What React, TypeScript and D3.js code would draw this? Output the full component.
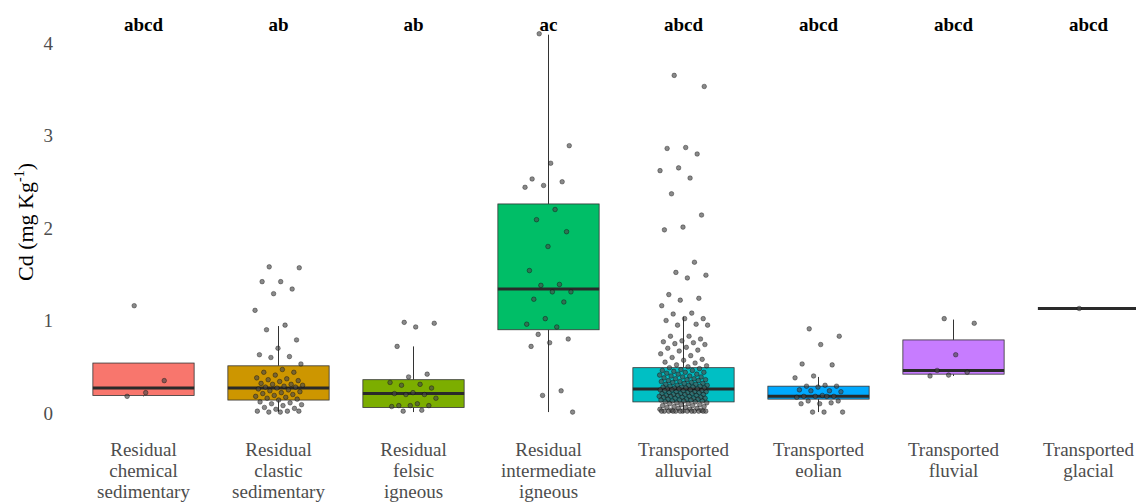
import React from "react";
import * as d3 from "d3";

const categories = [
  "Residual chemical sedimentary",
  "Residual clastic sedimentary",
  "Residual felsic igneous",
  "Residual intermediate igneous",
  "Transported alluvial",
  "Transported eolian",
  "Transported fluvial",
  "Transported glacial",
];
const categoryLines = [
  ["Residual", "chemical", "sedimentary"],
  ["Residual", "clastic", "sedimentary"],
  ["Residual", "felsic", "igneous"],
  ["Residual", "intermediate", "igneous"],
  ["Transported", "alluvial"],
  ["Transported", "eolian"],
  ["Transported", "fluvial"],
  ["Transported", "glacial"],
];
const groupLetters = ["abcd", "ab", "ab", "ac", "abcd", "abcd", "abcd", "abcd"];
const colors = ["#F8766D", "#CD9600", "#7CAE00", "#00BE67", "#00BFC4", "#00A9FF", "#C77CFF", "#FF61CC"];

const q1 = [0.19, 0.14, 0.06, 0.9, 0.12, 0.15, 0.42, 1.13];
const medians = [0.27, 0.27, 0.21, 1.34, 0.26, 0.18, 0.46, 1.13];
const q3 = [0.54, 0.51, 0.36, 2.26, 0.49, 0.29, 0.79, 1.13];
const whiskerLow = [0.18, 0.01, 0.01, 0.01, 0.0, 0.01, 0.4, 1.13];
const whiskerHigh = [0.54, 0.94, 0.72, 4.09, 1.04, 0.39, 1.01, 1.13];

const chemicalValues = [1.16, 0.35, 0.22, 0.18];
const clasticValues = [1.58, 1.57, 1.42, 1.42, 1.34, 1.29, 1.11, 0.95, 0.9, 0.79, 0.7, 0.63, 0.61, 0.6, 0.53, 0.47, 0.44, 0.44, 0.41, 0.38, 0.37, 0.36, 0.35, 0.34, 0.32, 0.31, 0.31, 0.3, 0.29, 0.28, 0.28, 0.27, 0.26, 0.25, 0.24, 0.23, 0.22, 0.21, 0.2, 0.19, 0.18, 0.17, 0.16, 0.15, 0.14, 0.12, 0.11, 0.1, 0.09, 0.08, 0.06, 0.05, 0.04, 0.02, 0.02, 0.01, 0.02, 0.01];
const felsicValues = [0.98, 0.97, 0.93, 0.72, 0.42, 0.39, 0.33, 0.31, 0.3, 0.27, 0.22, 0.21, 0.2, 0.2, 0.16, 0.1, 0.08, 0.08, 0.08, 0.07, 0.03, 0.02];
const intermediateValues = [4.1, 2.89, 2.7, 2.53, 2.5, 2.46, 2.44, 2.2, 2.09, 1.96, 1.8, 1.54, 1.39, 1.38, 1.31, 1.31, 1.23, 1.2, 1.02, 0.96, 0.93, 0.85, 0.8, 0.76, 0.72, 0.24, 0.19, 0.01];
const alluvialValues = [
  3.65, 3.53, 2.87, 2.86, 2.8, 2.65, 2.62, 2.54, 2.37, 2.14, 2.01, 1.98, 1.63, 1.52, 1.49, 1.46, 1.28, 1.24, 1.22, 1.16, 1.08, 1.07,
  1.02, 1.02, 1.0, 0.96, 0.95, 0.95, 0.83, 0.83, 0.8, 0.78, 0.77, 0.76, 0.75, 0.74, 0.71, 0.7, 0.68, 0.67, 0.64, 0.62, 0.6, 0.58, 0.57, 0.55, 0.54, 0.52, 0.51, 0.5,
  0.49, 0.48, 0.47, 0.46, 0.46, 0.45, 0.44, 0.44, 0.43, 0.42, 0.42, 0.41, 0.4, 0.4, 0.39, 0.39, 0.38, 0.37, 0.37, 0.36, 0.36, 0.35, 0.35, 0.34, 0.34, 0.33, 0.33, 0.32, 0.32, 0.31, 0.31, 0.3, 0.3, 0.3, 0.29, 0.29, 0.28, 0.28, 0.28, 0.27, 0.27, 0.27, 0.26, 0.26, 0.26, 0.25, 0.25, 0.25, 0.24, 0.24, 0.24, 0.23, 0.23, 0.23, 0.22, 0.22, 0.22, 0.21, 0.21, 0.21, 0.2, 0.2, 0.2, 0.19, 0.19, 0.19, 0.18, 0.18, 0.18, 0.17, 0.17, 0.17, 0.16, 0.16, 0.16, 0.15, 0.15, 0.15, 0.14, 0.14, 0.14, 0.13, 0.13, 0.13, 0.12, 0.12,
  0.11, 0.11, 0.1, 0.1, 0.09, 0.09, 0.08, 0.08, 0.07, 0.07, 0.06, 0.06, 0.05, 0.05, 0.04, 0.04, 0.03, 0.03, 0.02, 0.02, 0.02, 0.02, 0.02, 0.02, 0.02, 0.02, 0.02, 0.02, 0.02, 0.02, 0.02,
];
const eolianValues = [0.91, 0.83, 0.74, 0.53, 0.52, 0.4, 0.38, 0.3, 0.29, 0.29, 0.28, 0.25, 0.24, 0.24, 0.23, 0.19, 0.18, 0.18, 0.18, 0.17, 0.18, 0.13, 0.13, 0.1, 0.1, 0.11, 0.01, 0.01, 0.01];
const fluvialValues = [1.02, 0.97, 0.63, 0.46, 0.44, 0.41, 0.4];
const glacialValues = [1.13];

const pointValues = [chemicalValues, clasticValues, felsicValues, intermediateValues, alluvialValues, eolianValues, fluvialValues, glacialValues];

const yTicks = [0, 1, 2, 3, 4];

const W = 1136;
const H = 504;
const serif = "'Liberation Serif', Tinos, 'Noto Serif', 'DejaVu Serif', 'Times New Roman', Times, serif";

export default function App() {
  const x = d3.scaleBand<string>().domain(categories).range([76, 1156]).padding(0);
  const y = d3.scaleLinear().domain([0, 4]).range([413, 43]);
  const bw = x.bandwidth();
  const boxW = bw * 0.75;
  const jitterW = bw * 0.18;
  const phi = 0.6180339887;
  const tf = { fontFamily: serif };

  return (
    <svg width={W} height={H} style={{ position: "absolute", left: 0, top: 0, background: "#fff", fontFamily: serif }}>
      {yTicks.map((t) => (
        <text key={t} x={53} y={y(t)} dy="0.35em" textAnchor="end" style={tf} fontSize={19} fill="#4d4d4d">
          {t}
        </text>
      ))}
      <text transform={`translate(33,222) rotate(-90)`} textAnchor="middle" style={tf} fontSize={22} fill="#000">
        Cd (mg Kg
        <tspan fontSize={14} dy={-9}>-1</tspan>
        <tspan dy={9}>)</tspan>
      </text>
      <g>
        {categories.map((c, i) => {
          const cx = (x(c) as number) + bw / 2;
          const col = colors[i];
          const single = q1[i] === q3[i];
          return (
            <g key={c}>
              {!single && (
                <>
                  <line x1={cx} x2={cx} y1={y(q3[i])} y2={y(whiskerHigh[i])} stroke="#333" strokeWidth={1} />
                  <line x1={cx} x2={cx} y1={y(q1[i])} y2={y(whiskerLow[i])} stroke="#333" strokeWidth={1} />
                  <rect x={cx - boxW / 2} y={y(q3[i])} width={boxW} height={y(q1[i]) - y(q3[i])} fill={col} stroke="#333" strokeWidth={0.8} />
                </>
              )}
              <line x1={cx - boxW / 2} x2={cx + boxW / 2} y1={y(medians[i])} y2={y(medians[i])} stroke="#2a2a2a" strokeWidth={3} />
              {pointValues[i].map((v, j) => {
                const off = ((((j + 0.5) * phi) % 1) - 0.5) * 2 * jitterW;
                return (
                  <circle key={j} cx={cx + off} cy={y(v)} r={2.3} fill="#4a4a4a" fillOpacity={0.65} stroke="#000" strokeOpacity={0.6} strokeWidth={0.6} />
                );
              })}
            </g>
          );
        })}
      </g>
      {categories.map((c, i) => (
        <text key={c} x={(x(c) as number) + bw / 2} y={31} textAnchor="middle" style={tf} fontWeight="bold" fontSize={19} fill="#000">
          {groupLetters[i]}
        </text>
      ))}
      {categories.map((c, i) => (
        <text key={c} textAnchor="middle" style={tf} fontSize={19} fill="#4d4d4d">
          {categoryLines[i].map((ln, k) => (
            <tspan key={k} x={(x(c) as number) + bw / 2} y={456 + k * 21}>
              {ln}
            </tspan>
          ))}
        </text>
      ))}
    </svg>
  );
}
